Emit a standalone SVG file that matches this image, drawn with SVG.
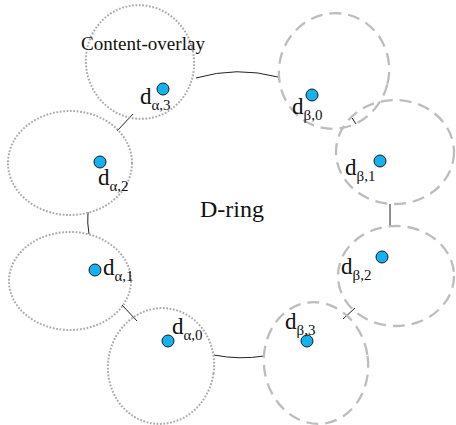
<svg xmlns="http://www.w3.org/2000/svg" width="456" height="425" viewBox="0 0 456 425">
<style>
.a{fill:none;stroke:#ababab;stroke-width:2;stroke-dasharray:1.8 1.6}
.b{fill:none;stroke:#bdbdbd;stroke-width:2.3;stroke-dasharray:12 7}
.dot{fill:#14b1ef;stroke:#1a1a1a;stroke-width:1}
.c{fill:none;stroke:#222;stroke-width:1}
text{font-family:"Liberation Serif","Times New Roman",serif;fill:#111}
.d{font-size:23px}
.s{font-size:15px}
</style>
<rect width="456" height="425" fill="#fff"/>
<g id="connectors">
<path class="c" d="M196,78 Q237,66 278,77"/>
<path class="c" d="M352,118 L356,124"/>
<path class="c" d="M390,204 L390,227"/>
<path class="c" d="M355,308 L343,319"/>
<path class="c" d="M214,355 Q239,360 264,356"/>
<path class="c" d="M122,305 L137,321"/>
<path class="c" d="M88,212 Q87,223 89,234"/>
<path class="c" d="M117,131 L133,114"/>
</g>
<g id="alpha3"><ellipse class="a" cx="140" cy="62" rx="54" ry="57" transform="rotate(-12 140 62)"/><circle class="dot" cx="163" cy="89" r="6"/><text x="140" y="104"><tspan class="d">d</tspan><tspan class="s" dy="6">α,3</tspan></text><text x="81" y="50" font-size="19" textLength="124" lengthAdjust="spacingAndGlyphs">Content-overlay</text></g>
<g id="alpha2"><ellipse class="a" cx="70" cy="163" rx="62" ry="52"/><circle class="dot" cx="100" cy="162" r="6"/><text x="98" y="185"><tspan class="d">d</tspan><tspan class="s" dy="6">α,2</tspan></text></g>
<g id="alpha1"><ellipse class="a" cx="70" cy="281" rx="61" ry="49"/><circle class="dot" cx="95" cy="270" r="6"/><text x="103" y="275"><tspan class="d">d</tspan><tspan class="s" dy="6">α,1</tspan></text></g>
<g id="alpha0"><ellipse class="a" cx="161" cy="366" rx="53" ry="58" transform="rotate(8 161 366)"/><circle class="dot" cx="168" cy="341" r="6"/><text x="172" y="334"><tspan class="d">d</tspan><tspan class="s" dy="6">α,0</tspan></text></g>
<g id="beta0"><ellipse class="b" cx="334" cy="71" rx="55" ry="58" transform="rotate(14 334 71)"/><circle class="dot" cx="312" cy="95" r="6"/><text x="292" y="114"><tspan class="d">d</tspan><tspan class="s" dy="6">β,0</tspan></text></g>
<g id="beta1"><ellipse class="b" cx="395" cy="152" rx="59" ry="52"/><circle class="dot" cx="380" cy="161" r="6"/><text x="345" y="175"><tspan class="d">d</tspan><tspan class="s" dy="6">β,1</tspan></text></g>
<g id="beta2"><ellipse class="b" cx="396" cy="276" rx="58" ry="50"/><circle class="dot" cx="382" cy="257" r="6"/><text x="341" y="274"><tspan class="d">d</tspan><tspan class="s" dy="6">β,2</tspan></text></g>
<g id="beta3"><ellipse class="b" cx="316" cy="363" rx="52" ry="61" transform="rotate(-8 316 363)"/><circle class="dot" cx="307" cy="341" r="6"/><text x="285" y="329"><tspan class="d">d</tspan><tspan class="s" dy="6">β,3</tspan></text></g>
<g id="dring"><text x="200" y="217" font-size="24">D-ring</text></g>
</svg>
